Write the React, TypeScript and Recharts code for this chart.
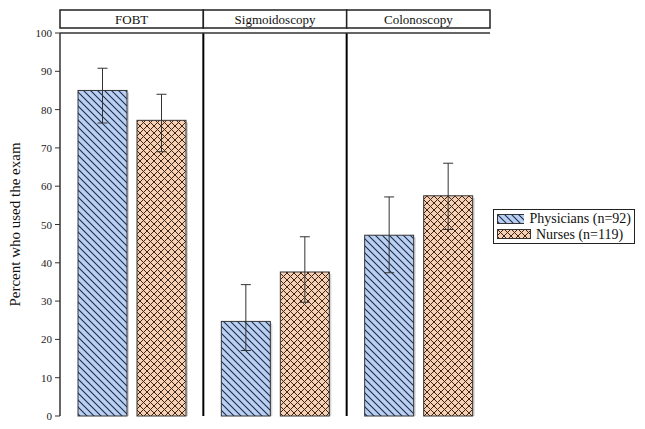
import {Bar, BarChart, CartesianGrid, ErrorBar, XAxis, YAxis} from "recharts";

// exam categories and percentages (with 95% CI bounds)
const exams = ["FOBT", "Sigmoidoscopy", "Colonoscopy"];
const physicians = [85, 24.7, 47.2];
const physiciansLow = [76.5, 17.1, 37.4];
const physiciansHigh = [90.8, 34.3, 57.2];
const nurses = [77.2, 37.6, 57.5];
const nursesLow = [69, 29.7, 48.7];
const nursesHigh = [84, 46.8, 66];
const yTicks = [0, 10, 20, 30, 40, 50, 60, 70, 80, 90, 100];
const seriesNames = ["Physicians (n=92)", "Nurses (n=119)"];

const data = exams.map((exam, i) => ({
    exam,
    physicians: physicians[i],
    physErr: [physicians[i] - physiciansLow[i], physiciansHigh[i] - physicians[i]],
    nurses: nurses[i],
    nurseErr: [nurses[i] - nursesLow[i], nursesHigh[i] - nurses[i]],
}));

const W = 645;
const H = 429;
const PLOT_LEFT = 60;
const PLOT_RIGHT = 490;
const FONT = "\"Times New Roman\", Times, \"Liberation Serif\", serif";

const HeaderTick = (props: any) => {
    const {x, payload} = props;
    const band = (PLOT_RIGHT - PLOT_LEFT) / exams.length;
    return (
        <g>
            <rect x={x - band / 2} y={10} width={band} height={18} fill="#fff" stroke="#222" strokeWidth={1.5} />
            <text x={x} y={19} textAnchor="middle" dominantBaseline="central" fontSize={13} style={{fontFamily: FONT}} fill="#111">
                {payload.value}
            </text>
        </g>
    );
};

const YTick = (props: any) => {
    const {x, y, payload} = props;
    return (
        <text x={x} y={y} textAnchor="end" dominantBaseline="central" fontSize={11} style={{fontFamily: FONT}} fill="#222">
            {payload.value}
        </text>
    );
};

const ShadowBar = (props: any) => {
    const {x, y, width, height, fill} = props;
    if (!height || height <= 0) return null;
    return (
        <g>
            <rect x={x + 2} y={y + 2} width={width} height={height - 2} fill="#d4d4d4" />
            <rect x={x} y={y} width={width} height={height} fill={fill} stroke="#333" strokeWidth={1} />
        </g>
    );
};

const Swatch = ({fill}: {fill: string}) => (
    <svg width={34} height={10} style={{display: "block"}}>
        <rect x={0.5} y={0.5} width={33} height={9} fill={fill} stroke="#333" />
    </svg>
);

const fills = ["url(#physPat)", "url(#nursePat)"];

export default function App() {
    return (
        <div style={{width: W, height: H, background: "#fff", position: "relative"}}>
            <style>{"body{margin:0}"}</style>
            <svg width={0} height={0} style={{position: "absolute"}}>
                <defs>
                    <pattern id="physPat" patternUnits="userSpaceOnUse" width={7} height={7}>
                        <rect width={7} height={7} fill="#b9d0f3" />
                        <path d="M0,0 L7,7 M-2,5 L2,9 M5,-2 L9,2" stroke="#1e2b4a" strokeWidth={1.1} />
                    </pattern>
                    <pattern id="nursePat" patternUnits="userSpaceOnUse" width={7} height={7}>
                        <rect width={7} height={7} fill="#f7cfb2" />
                        <path d="M0,0 L7,7 M-2,5 L2,9 M5,-2 L9,2 M0,7 L7,0 M-2,2 L2,-2 M5,9 L9,5" stroke="#3b2519" strokeWidth={1} />
                    </pattern>
                </defs>
            </svg>
            <BarChart
                width={W}
                height={H}
                data={data}
                margin={{top: 10, right: W - PLOT_RIGHT, bottom: 13, left: 10}}
                barCategoryGap={18}
                barGap={10}
            >
                <CartesianGrid
                    horizontal={false}
                    stroke="#000"
                    strokeWidth={2}
                    verticalCoordinatesGenerator={({offset}: any) =>
                        exams.slice(1).map((_, i) => offset.left + (offset.width * (i + 1)) / exams.length)
                    }
                />
                <XAxis dataKey="exam" height={0} tick={false} tickLine={false} axisLine={{stroke: "#333", strokeWidth: 1.5}} />
                <XAxis
                    xAxisId="top"
                    dataKey="exam"
                    orientation="top"
                    height={23}
                    tickLine={false}
                    axisLine={{stroke: "#333", strokeWidth: 1.5}}
                    tick={<HeaderTick />}
                    interval={0}
                />
                <YAxis
                    domain={[0, 100]}
                    ticks={yTicks}
                    width={50}
                    tickSize={5}
                    tickMargin={3}
                    tick={<YTick />}
                    tickLine={{stroke: "#333"}}
                    axisLine={{stroke: "#333", strokeWidth: 1.5}}
                    label={({viewBox}: any) => {
                        const cx = viewBox.x + 5;
                        const cy = viewBox.y + viewBox.height / 2;
                        return (
                            <text x={cx} y={cy} transform={`rotate(-90, ${cx}, ${cy})`} textAnchor="middle" dominantBaseline="central" fontSize={15} style={{fontFamily: FONT}} fill="#111">
                                Percent who used the exam
                            </text>
                        );
                    }}
                />
                <YAxis yAxisId="right" orientation="right" domain={[0, 100]} width={0} tick={false} tickLine={false} axisLine={{stroke: "#333", strokeWidth: 1.5}} />
                <Bar dataKey="physicians" name={seriesNames[0]} fill={fills[0]} shape={<ShadowBar />} isAnimationActive={false}>
                    <ErrorBar dataKey="physErr" width={5} stroke="#333" strokeWidth={1} direction="y" />
                </Bar>
                <Bar dataKey="nurses" name={seriesNames[1]} fill={fills[1]} shape={<ShadowBar />} isAnimationActive={false}>
                    <ErrorBar dataKey="nurseErr" width={5} stroke="#333" strokeWidth={1} direction="y" />
                </Bar>
            </BarChart>
            <div
                style={{
                    position: "absolute",
                    left: 493,
                    top: 209,
                    width: 142,
                    boxSizing: "border-box",
                    border: "1px solid #222",
                    background: "#fff",
                    padding: "1px 3px",
                    fontFamily: FONT,
                    fontSize: 14,
                    color: "#111",
                    lineHeight: "15.5px",
                    whiteSpace: "nowrap",
                }}
            >
                {seriesNames.map((name, i) => (
                    <div key={name} style={{display: "flex", alignItems: "center", gap: 5}}>
                        <Swatch fill={fills[i]} />
                        <span>{name}</span>
                    </div>
                ))}
            </div>
        </div>
    );
}
